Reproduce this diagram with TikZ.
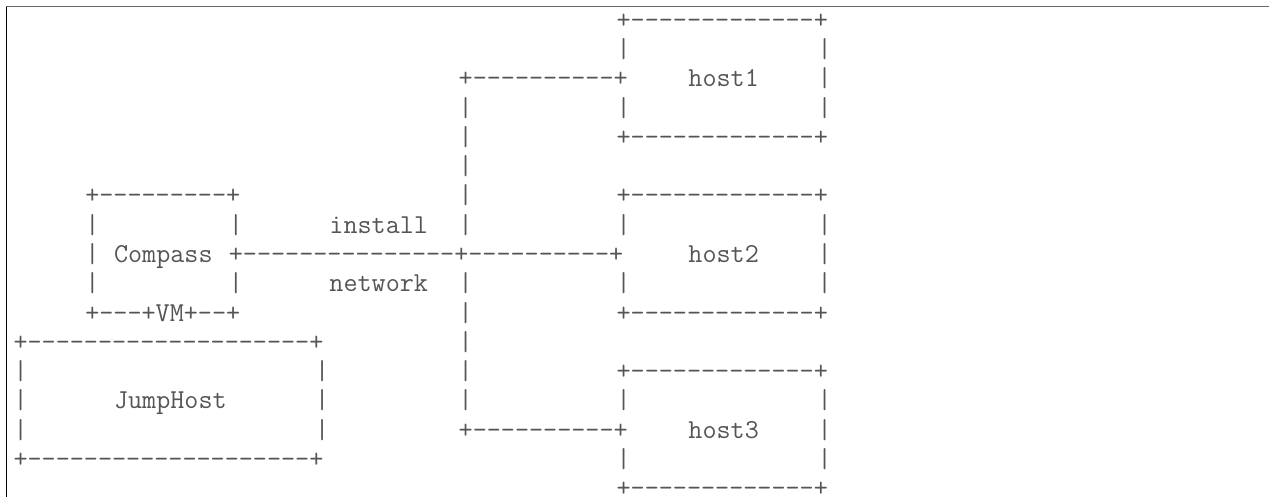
\documentclass[tikz,border=0pt]{standalone}
\usepackage{fontspec}
\usepackage{xcolor}
\usepackage{tikz}
\definecolor{asciigray}{RGB}{85,85,85}
\definecolor{framegray}{RGB}{102,102,102}
\newcommand{\asciifont}{\ttfamily\fontsize{27.35}{30}\selectfont}
\tikzset{
	asc/.style={anchor=base west, inner sep=0pt, outer sep=0pt, font=\asciifont, text=asciigray}
}

\begin{document}
\begin{tikzpicture}[x=14.36pt,y=-29.27pt]
	\useasboundingbox (-13.5pt,28.3pt) rectangle (1255.5pt,-468.7pt);
	% frame
	\coordinate (tl) at (-7.5pt,21.3pt);
	\coordinate (tr) at (1255.5pt,21.3pt);
	\coordinate (bl) at (-7.5pt,-468.7pt);
	\draw[framegray, line width=1pt] (tl) -- (tr);
	\draw[black, line width=1pt] (tl) -- (bl);
	% host1
	\node[asc] (h1a) at (42,0) {+-------------+};
	\node[asc] (h1b) at (42,1) {|};
	\node[asc] (h1c) at (56,1) {|};
	\node[asc] (n1) at (31,2) {+----------+};
	\node[asc] (h1) at (47,2) {host1};
	\node[asc] (h1d) at (56,2) {|};
	\node[asc] (n2) at (31,3) {|};
	\node[asc] (h1e) at (42,3) {|};
	\node[asc] (h1f) at (56,3) {|};
	\node[asc] (n3) at (31,4) {|};
	\node[asc] (h1g) at (42,4) {+-------------+};
	\node[asc] (n4) at (31,5) {|};
	% Compass and host2
	\node[asc] (c1) at (5,6) {+---------+};
	\node[asc] (n5) at (31,6) {|};
	\node[asc] (h2a) at (42,6) {+-------------+};
	\node[asc] (c2) at (5,7) {|};
	\node[asc] (c3) at (15,7) {|};
	\node[asc] (inst) at (22,7) {install};
	\node[asc] (n6) at (31,7) {|};
	\node[asc] (h2b) at (42,7) {|};
	\node[asc] (h2c) at (56,7) {|};
	\node[asc] (c4) at (5,8) {|};
	\node[asc] (comp) at (7,8) {Compass};
	\node[asc] (n7) at (15,8) {+---------------+----------+};
	\node[asc] (h2) at (47,8) {host2};
	\node[asc] (h2d) at (56,8) {|};
	\node[asc] (c5) at (5,9) {|};
	\node[asc] (c6) at (15,9) {|};
	\node[asc] (net) at (22,9) {network};
	\node[asc] (n8) at (31,9) {|};
	\node[asc] (h2e) at (42,9) {|};
	\node[asc] (h2f) at (56,9) {|};
	\node[asc] (vm) at (5,10) {+---+VM+--+};
	\node[asc] (n9) at (31,10) {|};
	\node[asc] (h2g) at (42,10) {+-------------+};
	% JumpHost and host3
	\node[asc] (j1) at (0,11) {+--------------------+};
	\node[asc] (n10) at (31,11) {|};
	\node[asc] (j2) at (0,12) {|};
	\node[asc] (j3) at (21,12) {|};
	\node[asc] (n11) at (31,12) {|};
	\node[asc] (h3a) at (42,12) {+-------------+};
	\node[asc] (j4) at (0,13) {|};
	\node[asc] (jump) at (7,13) {JumpHost};
	\node[asc] (j5) at (21,13) {|};
	\node[asc] (n12) at (31,13) {|};
	\node[asc] (h3b) at (42,13) {|};
	\node[asc] (h3c) at (56,13) {|};
	\node[asc] (j6) at (0,14) {|};
	\node[asc] (j7) at (21,14) {|};
	\node[asc] (n13) at (31,14) {+----------+};
	\node[asc] (h3) at (47,14) {host3};
	\node[asc] (h3d) at (56,14) {|};
	\node[asc] (j8) at (0,15) {+--------------------+};
	\node[asc] (h3e) at (42,15) {|};
	\node[asc] (h3f) at (56,15) {|};
	\node[asc] (h3g) at (42,16) {+-------------+};
\end{tikzpicture}
\end{document}
